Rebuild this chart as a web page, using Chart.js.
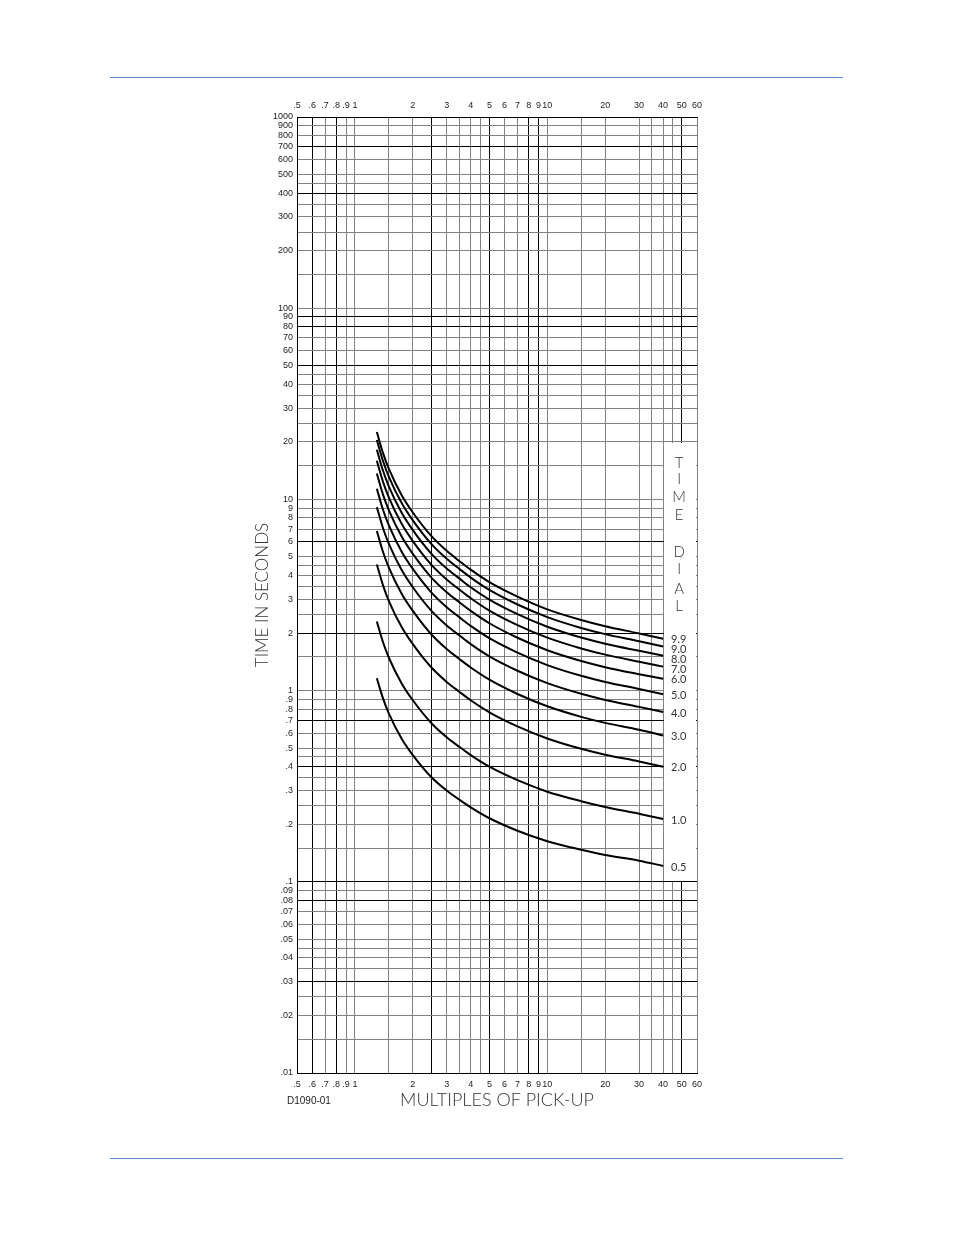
<!DOCTYPE html>
<html>
<head>
<meta charset="utf-8">
<script src="https://cdn.jsdelivr.net/npm/chart.js@4.4.1/dist/chart.umd.min.js"></script>
<style>
  html, body { margin: 0; padding: 0; background: #fff; }
  #page { position: relative; width: 954px; height: 1235px; }
  .rule { position: absolute; left: 110px; width: 733px; height: 1px; background: #5b8fd0; }
  #wrap { position: absolute; left: 0; top: 0; width: 954px; height: 1235px; }
</style>
</head>
<body>
<div id="page">
  <div class="rule" style="top:77px"></div>
  <div class="rule" style="top:1158px"></div>
  <div id="wrap"><canvas id="myChart"></canvas></div>
</div>
<script>
// multiples of pick-up (x) shared by all time dial curves
var multiples = [1.3, 1.4, 1.5, 1.75, 2, 2.5, 3, 3.5, 4, 5, 7, 10, 15, 20, 30, 40];

// time in seconds, one list per time dial setting
var dial05 = [1.16, 0.91, 0.76, 0.56, 0.46, 0.352, 0.30, 0.268, 0.245, 0.215, 0.185, 0.163, 0.147, 0.138, 0.129, 0.121];
var dial10 = [2.30, 1.79, 1.49, 1.09, 0.89, 0.675, 0.57, 0.507, 0.46, 0.40, 0.34, 0.296, 0.264, 0.246, 0.227, 0.213];
var dial20 = [4.57, 3.55, 2.95, 2.15, 1.75, 1.32, 1.11, 0.984, 0.89, 0.77, 0.65, 0.562, 0.496, 0.462, 0.426, 0.40];
var dial30 = [6.84, 5.31, 4.41, 3.21, 2.61, 1.965, 1.65, 1.46, 1.32, 1.14, 0.96, 0.828, 0.729, 0.678, 0.624, 0.582];
var dial40 = [9.11, 7.07, 5.87, 4.27, 3.47, 2.61, 2.19, 1.94, 1.75, 1.51, 1.27, 1.094, 0.962, 0.894, 0.822, 0.772];
var dial50 = [11.38, 8.83, 7.33, 5.33, 4.33, 3.255, 2.73, 2.415, 2.18, 1.88, 1.58, 1.36, 1.195, 1.11, 1.02, 0.958];
var dial60 = [13.65, 10.59, 8.79, 6.39, 5.19, 3.90, 3.27, 2.89, 2.61, 2.25, 1.89, 1.626, 1.428, 1.326, 1.218, 1.152];
var dial70 = [15.92, 12.35, 10.25, 7.45, 6.05, 4.545, 3.81, 3.37, 3.04, 2.62, 2.20, 1.892, 1.661, 1.542, 1.416, 1.335];
var dial80 = [18.19, 14.11, 11.71, 8.51, 6.91, 5.19, 4.35, 3.85, 3.47, 2.99, 2.51, 2.158, 1.894, 1.758, 1.614, 1.522];
var dial90 = [20.46, 15.87, 13.17, 9.57, 7.77, 5.835, 4.89, 4.32, 3.90, 3.36, 2.82, 2.424, 2.127, 1.974, 1.812, 1.70];
var dial99 = [22.5, 17.45, 14.48, 10.52, 8.54, 6.42, 5.38, 4.75, 4.29, 3.69, 3.10, 2.66, 2.34, 2.17, 1.99, 1.865];

var dialNames = ['0.5', '1.0', '2.0', '3.0', '4.0', '5.0', '6.0', '7.0', '8.0', '9.0', '9.9'];
var dialSeries = [dial05, dial10, dial20, dial30, dial40, dial50, dial60, dial70, dial80, dial90, dial99];

// grid lines and labelled ticks
var xGrid = [0.5, 0.6, 0.7, 0.8, 0.9, 1, 1.5, 2, 2.5, 3, 3.5, 4, 4.5, 5, 6, 7, 8, 9, 10, 15, 20, 30, 35, 40, 45, 50, 60];
var xLabels = [0.5, 0.6, 0.7, 0.8, 0.9, 1, 2, 3, 4, 5, 6, 7, 8, 9, 10, 20, 30, 40, 50, 60];
var xDark = [0.6, 0.8, 2.5, 5, 8, 9, 50];

var yGrid = [0.01, 0.015, 0.02, 0.025, 0.03, 0.035, 0.04, 0.045, 0.05, 0.06, 0.07, 0.08, 0.09,
  0.1, 0.15, 0.2, 0.25, 0.3, 0.35, 0.4, 0.45, 0.5, 0.6, 0.7, 0.8, 0.9,
  1, 1.5, 2, 2.5, 3, 3.5, 4, 4.5, 5, 6, 7, 8, 9,
  10, 15, 20, 25, 30, 35, 40, 45, 50, 60, 70, 80, 90,
  100, 150, 200, 250, 300, 350, 400, 450, 500, 600, 700, 800, 900, 1000];
var yLabels = [0.01, 0.02, 0.03, 0.04, 0.05, 0.06, 0.07, 0.08, 0.09,
  0.1, 0.2, 0.3, 0.4, 0.5, 0.6, 0.7, 0.8, 0.9,
  1, 2, 3, 4, 5, 6, 7, 8, 9, 10, 20, 30, 40, 50, 60, 70, 80, 90,
  100, 200, 300, 400, 500, 600, 700, 800, 900, 1000];
var yDark = [700, 400, 90, 80, 50, 6, 2, 0.7, 0.4, 0.1, 0.08, 0.03];

var FONT = "'Liberation Sans', Arial, sans-serif";
var THIN = "Lato, 'Liberation Sans', Arial, sans-serif";
var GRAY = '#808080';

function fmt(v) {
  var s = String(v);
  return v < 1 ? s.replace(/^0/, '') : s;
}

function setTicks(list) {
  return function (scale) {
    scale.ticks = list.map(function (v) { return { value: v }; });
  };
}

function gridColor(dark) {
  return function (c) {
    if (c.tick && dark.indexOf(c.tick.value) >= 0) return '#000';
    return GRAY;
  };
}

var datasets = dialSeries.map(function (arr, i) {
  return {
    label: dialNames[i],
    data: multiples.map(function (m, j) { return { x: m, y: arr[j] }; }),
    borderColor: '#000',
    borderWidth: 2,
    pointRadius: 0,
    fill: false,
    cubicInterpolationMode: 'monotone'
  };
});

// white box on the right holding the time dial key
var dialKey = {
  id: 'dialKey',
  beforeDatasetsDraw: function (chart) {
    var ctx = chart.ctx, xs = chart.scales.x, ys = chart.scales.y;
    var l = Math.round(xs.getPixelForValue(40)) + 1;
    var r = Math.round(xs.getPixelForValue(60)) - 1;
    var t = Math.round(ys.getPixelForValue(20)) + 1;
    var b = Math.round(ys.getPixelForValue(0.1)) - 1;
    ctx.save();
    ctx.fillStyle = '#fff';
    ctx.fillRect(l, t, r - l, b - t);
    ctx.restore();
  },
  afterDatasetsDraw: function (chart) {
    var ctx = chart.ctx, xs = chart.scales.x, ys = chart.scales.y;
    var x40 = xs.getPixelForValue(40);
    ctx.save();
    ctx.fillStyle = '#333';
    ctx.textBaseline = 'middle';
    ctx.textAlign = 'left';
    ctx.font = '11px ' + THIN;
    var last = null;
    for (var i = dialSeries.length - 1; i >= 0; i--) {
      var arr = dialSeries[i];
      var y = ys.getPixelForValue(arr[arr.length - 1]);
      if (last !== null && y - last < 9.8) y = last + 9.8;
      ctx.fillText(dialNames[i], x40 + 8, y + 1);
      last = y;
    }
    var letters = ['T', 'I', 'M', 'E', 'D', 'I', 'A', 'L'];
    var offs = [21, 37, 55, 73, 110, 127, 147, 164];
    var top = ys.getPixelForValue(20);
    ctx.textAlign = 'center';
    ctx.font = '300 15px ' + THIN;
    letters.forEach(function (ch, i) {
      ctx.fillText(ch, x40 + 16, top + offs[i]);
    });
    ctx.font = '10px ' + FONT;
    ctx.textAlign = 'left';
    ctx.fillStyle = '#222';
    ctx.fillText('D1090-01', 287, 1101);
    ctx.restore();
  }
};

Chart.defaults.color = '#222';
Chart.defaults.font.family = FONT;

var ctx = document.getElementById('myChart').getContext('2d');
var myChart = new Chart(ctx, {
  type: 'line',
  data: { datasets: datasets },
  plugins: [dialKey],
  options: {
    responsive: true,
    maintainAspectRatio: false,
    animation: false,
    layout: { padding: { left: 0, right: 257, top: 0, bottom: 0 } },
    plugins: { legend: { display: false }, tooltip: { enabled: false } },
    scales: {
      x: {
        type: 'logarithmic',
        position: 'bottom',
        min: 0.5,
        max: 60,
        afterBuildTicks: setTicks(xGrid),
        afterFit: function (s) { s.height = 162; },
        grid: { color: gridColor(xDark), lineWidth: 1, drawTicks: false },
        border: { display: true, color: '#000' },
        ticks: {
          autoSkip: false, maxRotation: 0, padding: 6,
          font: { size: 9 },
          callback: function (v) { return xLabels.indexOf(v) >= 0 ? fmt(v) : ''; }
        },
        title: {
          display: true,
          text: 'MULTIPLES OF PICK-UP',
          font: { family: THIN, size: 18, weight: 300 },
          color: '#333',
          padding: { top: 0, bottom: 124 }
        }
      },
      x2: {
        type: 'logarithmic',
        position: 'top',
        min: 0.5,
        max: 60,
        afterBuildTicks: setTicks(xGrid),
        afterFit: function (s) { s.height = 117; },
        grid: { display: false, drawTicks: false },
        border: { display: true, color: '#000' },
        ticks: {
          autoSkip: false, maxRotation: 0, padding: 6,
          font: { size: 9 },
          callback: function (v) { return xLabels.indexOf(v) >= 0 ? fmt(v) : ''; }
        }
      },
      y: {
        type: 'logarithmic',
        position: 'left',
        min: 0.01,
        max: 1000,
        afterBuildTicks: setTicks(yGrid),
        afterFit: function (s) { s.width = 297; },
        grid: { color: gridColor(yDark), lineWidth: 1, drawTicks: false },
        border: { display: true, color: '#000' },
        ticks: {
          autoSkip: false, padding: 4,
          font: { size: 9 },
          callback: function (v) { return yLabels.indexOf(v) >= 0 ? fmt(v) : ''; }
        },
        title: {
          display: true,
          text: 'TIME IN SECONDS',
          font: { family: THIN, size: 17, weight: 300 },
          color: '#333',
          padding: { top: 252, bottom: 0 }
        }
      }
    }
  }
});
</script>
</body>
</html>
